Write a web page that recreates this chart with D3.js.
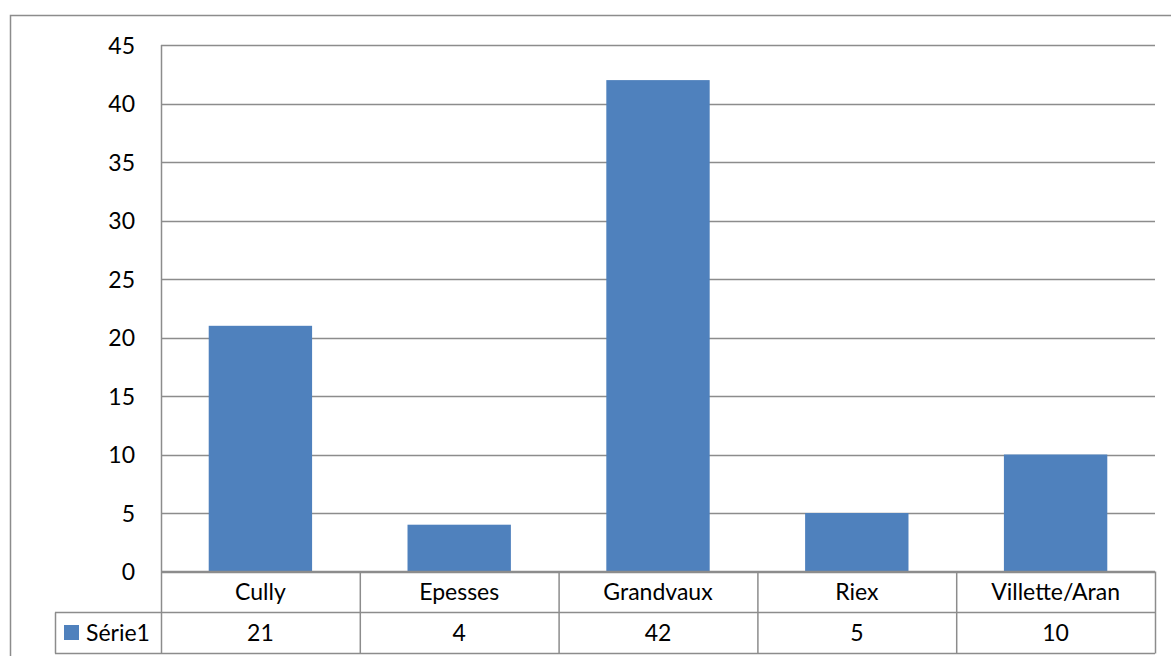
<!DOCTYPE html>
<html><head><meta charset="utf-8">
<script src="https://cdn.jsdelivr.net/npm/d3@7"></script>
<style>body{margin:0;background:#fff}svg{display:block}text{font-family:Lato,"Open Sans",sans-serif;fill:#000}</style>
</head><body><svg id="c" width="1171" height="656"></svg>
<script>
const categories = ["Cully","Epesses","Grandvaux","Riex","Villette/Aran"];
const values = [21,4,42,5,10];
const seriesName = "Série1";
const yTicks = [0,5,10,15,20,25,30,35,40,45];

const svg = d3.select("#c");
const L=161, R=1155, T=45, B=571.5;
const rowH = 41;
const FS = 23;
const x = d3.scaleBand().domain(categories).range([L,R]).paddingInner(0.48).paddingOuter(0.24);
const xc = d3.scaleBand().domain(categories).range([L,R]);
const y = d3.scaleLinear().domain([0,45]).range([B,T]);
const grid="#8c8c8c";

// outer border
svg.append("rect").attr("x",10.5).attr("y",15.5).attr("width",1200).attr("height",700).attr("fill","none").attr("stroke",grid).attr("stroke-width",1.5);

// gridlines
svg.append("g").selectAll("line").data(yTicks).join("line")
  .attr("x1",L).attr("x2",R).attr("y1",d=>Math.round(y(d))+0.5).attr("y2",d=>Math.round(y(d))+0.5)
  .attr("stroke",grid).attr("stroke-width",1.5);
svg.append("line").attr("x1",L+0.5).attr("x2",L+0.5).attr("y1",T).attr("y2",B).attr("stroke",grid).attr("stroke-width",1.5);

// y axis labels
const ya = svg.append("g").attr("transform",`translate(${L-26},0)`)
  .call(d3.axisLeft(y).tickValues(yTicks).tickSize(0).tickPadding(0));
ya.select(".domain").remove();
ya.selectAll("text").attr("font-size",FS).attr("font-family","Lato,sans-serif").attr("dy","0.36em");

// bars
svg.append("g").selectAll("rect").data(values).join("rect")
  .attr("x",(d,i)=>x(categories[i])).attr("width",x.bandwidth())
  .attr("y",d=>y(d)).attr("height",d=>y(0)-y(d)).attr("fill","#4F81BD");

// data table
const tb = svg.append("g");
const r1 = B, r2 = B+rowH, r3 = B+2*rowH;
const LL = 55;
tb.append("line").attr("x1",L).attr("x2",R).attr("y1",r1).attr("y2",r1).attr("stroke",grid).attr("stroke-width",1.5);
tb.append("line").attr("x1",LL).attr("x2",R).attr("y1",r2).attr("y2",r2).attr("stroke",grid).attr("stroke-width",1.5);
tb.append("line").attr("x1",LL).attr("x2",R).attr("y1",r3).attr("y2",r3).attr("stroke",grid).attr("stroke-width",1.5);
const vx = categories.map(c=>xc(c)).concat([R]);
tb.selectAll("line.v").data(vx).join("line").attr("class","v")
  .attr("x1",d=>d+0.5).attr("x2",d=>d+0.5).attr("y1",r1).attr("y2",r3).attr("stroke",grid).attr("stroke-width",1.5);
tb.append("line").attr("x1",LL+0.5).attr("x2",LL+0.5).attr("y1",r2).attr("y2",r3).attr("stroke",grid).attr("stroke-width",1.5);
tb.selectAll("text.cat").data(categories).join("text").attr("class","cat")
  .attr("x",d=>xc(d)+xc.bandwidth()/2).attr("y",(r1+r2)/2).attr("dy","0.36em")
  .attr("text-anchor","middle").attr("font-size",FS).text(d=>d);
tb.selectAll("text.val").data(values).join("text").attr("class","val")
  .attr("x",(d,i)=>xc(categories[i])+xc.bandwidth()/2).attr("y",(r2+r3)/2).attr("dy","0.36em")
  .attr("text-anchor","middle").attr("font-size",FS).text(d=>d);
tb.append("rect").attr("x",64).attr("y",625).attr("width",15).attr("height",15).attr("fill","#4F81BD");
tb.append("text").attr("x",86).attr("y",(r2+r3)/2).attr("dy","0.36em").attr("font-size",FS).text(seriesName);
</script></body></html>
